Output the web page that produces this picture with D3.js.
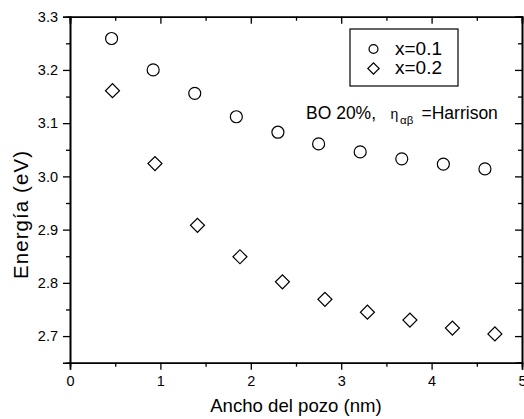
<!DOCTYPE html>
<html>
<head>
<meta charset="utf-8">
<script src="https://cdn.jsdelivr.net/npm/d3@7"></script>
<style>
  html, body { margin: 0; padding: 0; background: #fff; }
  svg { display: block; font-family: Arial, "Liberation Sans", sans-serif; }
</style>
</head>
<body>
<svg id="chart" width="524" height="419"></svg>
<script>
// Well width (nm) and energy (eV) for the two compositions
const widthX01 = [0.46, 0.92, 1.38, 1.84, 2.30, 2.75, 3.21, 3.67, 4.13, 4.59];
const energyX01 = [3.259, 3.200, 3.156, 3.112, 3.083, 3.061, 3.046, 3.033, 3.023, 3.014];
const widthX02 = [0.47, 0.94, 1.41, 1.88, 2.35, 2.82, 3.29, 3.76, 4.23, 4.70];
const energyX02 = [3.161, 3.024, 2.908, 2.849, 2.802, 2.769, 2.745, 2.730, 2.715, 2.704];

const xTicks = [0, 1, 2, 3, 4, 5];
const xMinor = [0.5, 1.5, 2.5, 3.5, 4.5];
const yTicks = [2.7, 2.8, 2.9, 3.0, 3.1, 3.2, 3.3];
const yMinor = [2.75, 2.85, 2.95, 3.05, 3.15, 3.25];
const seriesNames = ["x=0.1", "x=0.2"];

const svg = d3.select("#chart");
const W = 524, H = 419;
const m = { left: 70, right: 2, top: 16.7, bottom: 56.3 };

const x = d3.scaleLinear().domain([0, 5]).range([m.left, W - m.right]);
const y = d3.scaleLinear().domain([2.65, 3.3]).range([H - m.bottom, m.top]);

const axisStroke = 1.6;
const fmtY = d3.format(".1f");

function styleAxis(g) {
  g.select(".domain").attr("stroke", "#000").attr("stroke-width", axisStroke);
  g.selectAll(".tick line").attr("stroke", "#000").attr("stroke-width", 1.3);
  g.selectAll(".tick text").attr("fill", "#000").style("font-size", "14.5px");
}

// bottom axis (outward ticks)
svg.append("g").attr("transform", `translate(0,${y(2.65)})`)
  .call(d3.axisBottom(x).tickValues(xMinor).tickSize(4).tickFormat(""))
  .call(styleAxis);
svg.append("g").attr("transform", `translate(0,${y(2.65)})`)
  .call(d3.axisBottom(x).tickValues(xTicks).tickSize(7).tickPadding(6).tickFormat(d3.format("d")))
  .call(styleAxis);

// top axis (inward ticks)
svg.append("g").attr("transform", `translate(0,${y(3.3)})`)
  .call(d3.axisBottom(x).tickValues(xMinor).tickSize(4).tickFormat(""))
  .call(styleAxis);
svg.append("g").attr("transform", `translate(0,${y(3.3)})`)
  .call(d3.axisBottom(x).tickValues(xTicks).tickSize(7).tickFormat(""))
  .call(styleAxis);

// left axis (outward ticks)
svg.append("g").attr("transform", `translate(${x(0)},0)`)
  .call(d3.axisLeft(y).tickValues(yMinor).tickSize(4).tickFormat(""))
  .call(styleAxis);
svg.append("g").attr("transform", `translate(${x(0)},0)`)
  .call(d3.axisLeft(y).tickValues(yTicks).tickSize(7).tickPadding(5).tickFormat(fmtY))
  .call(styleAxis);

// right axis (inward ticks)
svg.append("g").attr("transform", `translate(${x(5)},0)`)
  .call(d3.axisLeft(y).tickValues(yMinor).tickSize(4).tickFormat(""))
  .call(styleAxis);
svg.append("g").attr("transform", `translate(${x(5)},0)`)
  .call(d3.axisLeft(y).tickValues(yTicks).tickSize(7).tickFormat(""))
  .call(styleAxis);

// markers
const circleSym = d3.symbol().type(d3.symbolCircle).size(Math.PI * 36);
const diamondSym = d3.symbol().type(d3.symbolSquare).size(98);

svg.append("g").selectAll("path")
  .data(widthX01.map((w, i) => [w, energyX01[i]]))
  .join("path")
  .attr("d", circleSym)
  .attr("transform", d => `translate(${x(d[0])},${y(d[1])})`)
  .attr("fill", "none").attr("stroke", "#000").attr("stroke-width", 1.2);

svg.append("g").selectAll("path")
  .data(widthX02.map((w, i) => [w, energyX02[i]]))
  .join("path")
  .attr("d", diamondSym)
  .attr("transform", d => `translate(${x(d[0])},${y(d[1])}) rotate(45)`)
  .attr("fill", "none").attr("stroke", "#000").attr("stroke-width", 1.2);

// legend
const leg = svg.append("g");
leg.append("rect").attr("x", 350).attr("y", 29).attr("width", 108).attr("height", 57)
  .attr("fill", "#fff").attr("stroke", "#000").attr("stroke-width", 1.2);
leg.append("path").attr("d", d3.symbol().type(d3.symbolCircle).size(Math.PI * 20)())
  .attr("transform", "translate(373.5,49)")
  .attr("fill", "none").attr("stroke", "#000").attr("stroke-width", 1.2);
leg.append("path").attr("d", d3.symbol().type(d3.symbolSquare).size(64)())
  .attr("transform", "translate(373.5,68.5) rotate(45)")
  .attr("fill", "none").attr("stroke", "#000").attr("stroke-width", 1.2);
leg.append("text").attr("x", 395).attr("y", 54.5).text(seriesNames[0])
  .style("font-size", "19px");
leg.append("text").attr("x", 395).attr("y", 74).text(seriesNames[1])
  .style("font-size", "19px");

// annotation: BO 20%, eta_{alpha beta}=Harrison
const ann = svg.append("text").attr("y", 118.5).style("font-size", "17.5px");
ann.append("tspan").attr("x", 306).text("BO 20%,");
ann.append("tspan").attr("x", 390.5).text("η").style("font-size", "14px");
ann.append("tspan").attr("x", 400).attr("dy", 5).text("αβ").style("font-size", "11.5px");
ann.append("tspan").attr("x", 421.5).attr("dy", -5).text("=Harrison");

// axis titles
svg.append("text").attr("x", (x(0) + x(5)) / 2).attr("y", 411.5)
  .attr("text-anchor", "middle").style("font-size", "18.6px")
  .text("Ancho del pozo (nm)");
svg.append("text")
  .attr("transform", "translate(28,215) rotate(-90)")
  .attr("text-anchor", "middle").style("font-size", "20.5px")
  .attr("textLength", 128).attr("lengthAdjust", "spacing")
  .text("Energía (eV)");
</script>
</body>
</html>
